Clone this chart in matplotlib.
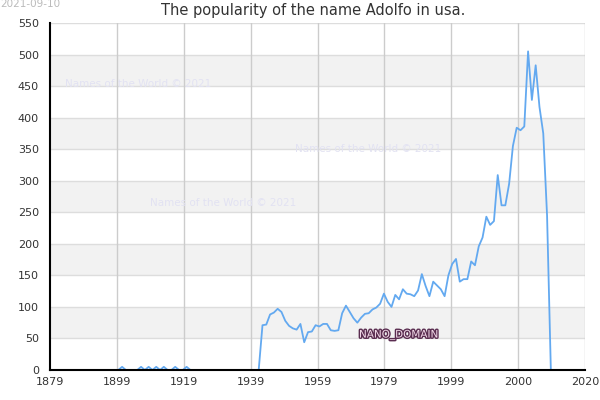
import matplotlib
matplotlib.use("Agg")
import matplotlib.pyplot as plt
import matplotlib.patheffects as pe
import numpy as np

# ---- data ----
early_years = list(range(1896, 1935))
early_values = [0, 0, 5, 0, 0, 0, 0, 5, 0, 5, 0, 5, 0, 5, 0, 0, 5, 0, 0, 5,
                0, 0, 0, 0, 0, 0, 0, 0, 0, 0, 0, 0, 0, 0, 0, 0, 0, 0, 0]
later_years = list(range(1935, 2014))
later_values = [71, 72, 88, 91, 97, 92, 78, 70, 66, 64,
                73, 44, 60, 61, 71, 69, 73, 73, 63, 62,
                63, 90, 102, 92, 82, 75, 83, 89, 90, 96,
                99, 105, 121, 108, 100, 119, 112, 128, 121, 120,
                117, 126, 152, 133, 117, 140, 134, 128, 117, 150,
                168, 176, 140, 144, 144, 172, 166, 196, 210, 243,
                230, 236, 309, 261, 261, 295, 355, 384, 380, 386,
                505, 428, 483, 417, 375, 245, 0, 0, 0]
years = early_years + later_years
values = early_values + later_values

x_min, x_max = 1879, 2020
x_tick_labels = ["1879", "1899", "1919", "1939", "1959", "1979", "1999", "2000", "2020"]
y_ticks = list(range(0, 551, 50))

title = "The popularity of the name Adolfo in usa."
date_text = "2021-09-10"
watermark = "Names of the World \u00a9 2021"
nano = "NANO_DOMAIN"

# ---- figure ----
fig = plt.figure(figsize=(6, 4), dpi=100)
ax = fig.add_axes([50 / 600, 1 - 370 / 400, 535 / 600, 347 / 400])

# alternating bands
for i in range(len(y_ticks) - 1):
    if i % 2 == 1:
        ax.axhspan(y_ticks[i], y_ticks[i + 1], color="#f2f2f2", zorder=0, lw=0)
for yv in y_ticks[1:]:
    ax.axhline(yv, color="#dddddd", lw=1.0, zorder=1)

xt = np.linspace(x_min, x_max, len(x_tick_labels))
for xv in xt[1:]:
    ax.axvline(xv, color="#cccccc", lw=1.0, zorder=1)

ax.plot(years, values, color="#63a9f0", lw=1.3, zorder=3, solid_joinstyle="round")

ax.set_xlim(x_min, x_max)
ax.set_ylim(0, 550)
ax.set_xticks(xt)
ax.set_xticklabels(x_tick_labels)
ax.set_yticks(y_ticks)
ax.tick_params(axis="both", length=0, labelsize=8, colors="#333333")
ax.tick_params(axis="y", pad=8)
ax.tick_params(axis="x", pad=5)
for s in ["top", "right"]:
    ax.spines[s].set_visible(False)
for s in ["left", "bottom"]:
    ax.spines[s].set_color("black")
    ax.spines[s].set_linewidth(1.5)
    ax.spines[s].set_zorder(4)

fig.text(313 / 600, 1 - 10 / 400, title, ha="center", va="center", fontsize=10.5, color="#333333")
fig.text(0, 1 - 4 / 400, date_text, ha="left", va="center", fontsize=7.5, color="#bbbbbb")

wm_color = "#e2e2f2"
for (px, py) in [(65, 84), (295, 149), (150, 203)]:
    fig.text(px / 600, 1 - py / 400, watermark, ha="left", va="center", fontsize=7.5, color=wm_color, zorder=5)

fig.text(359 / 600, 1 - 335 / 400, nano, ha="left", va="center", fontsize=7.5, color="#f3dcea",
         zorder=6,
         path_effects=[pe.withStroke(linewidth=2.0, foreground="#5a2d50")])

fig.savefig("out.png", dpi=100)
